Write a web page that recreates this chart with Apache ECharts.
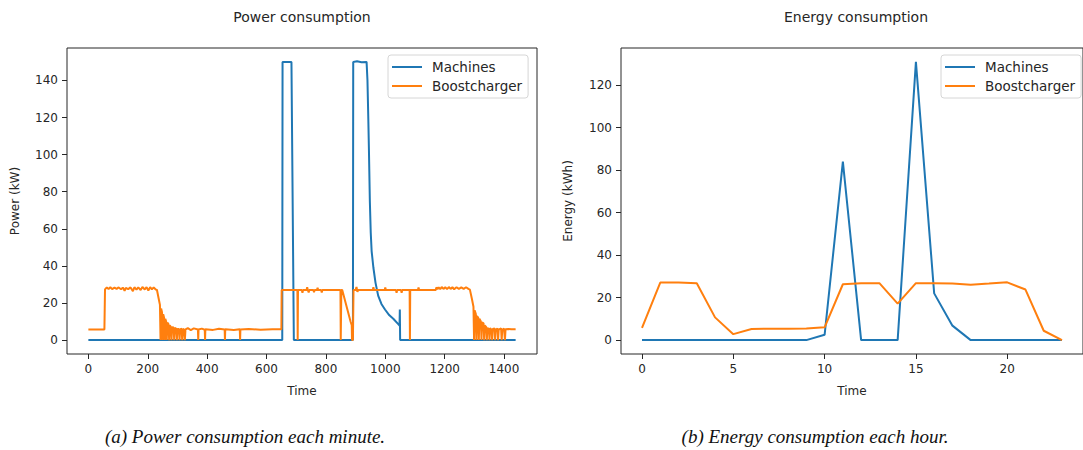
<!DOCTYPE html>
<html>
<head>
<meta charset="utf-8">
<script src="https://cdn.jsdelivr.net/npm/echarts@6/dist/echarts.min.js"></script>
<style>
  body { margin: 0; background: #fff; }
  #main { width: 1083px; height: 450px; }
</style>
</head>
<body>
<div id="main"></div>
<script>
// minute data, [minute, kW] at its breakpoints
var machinesPower = [
  [0, 0], [653, 0], [654, 150], [684, 150], [692, 0], [891, 0], [892, 150], [905, 150.3], [920, 149.8],
  [937, 150], [940, 140], [943, 118], [945, 102], [948, 75], [951, 58], [954, 48], [960, 39],
  [967, 31], [976, 24], [987, 19.5], [999, 16.5], [1013, 13.5], [1027, 11.5], [1046, 8.2],
  [1048, 7.8], [1049, 16.5], [1050, 0], [1439, 0]
];
var boostPower = [
  [0, 5.7], [54, 5.7], [56, 27.3], [62, 28.4], [68, 27.6], [74, 28.5], [80, 27.5], [88, 28.3],
  [95, 27.6], [102, 28.4], [110, 27.4], [116, 28.3], [122, 26.6], [126, 28.2], [134, 27.5],
  [142, 28.4], [150, 26.4], [155, 28.5], [162, 27.2], [168, 28.4], [176, 27.0], [182, 28.6],
  [190, 27.3], [196, 28.5], [202, 26.8], [208, 28.5], [214, 27.3], [220, 28.4], [226, 27.4],
  [231, 27.0], [236, 23], [241, 19], [243, 0], [245, 17], [248, 15], [250, 0], [252, 14],
  [255, 12], [257, 0], [259, 11.5], [262, 10], [264, 0], [266, 9.5], [270, 8.5], [272, 0],
  [274, 8], [278, 7], [280, 0], [282, 7], [287, 6.8], [289, 0], [291, 6.5], [296, 6.2],
  [298, 0], [300, 6], [305, 6], [307, 0], [309, 5.8], [314, 6.2], [316, 0], [318, 5.6],
  [322, 6], [325, 0], [327, 5.8], [335, 6.4], [345, 5.4], [355, 6.3], [369, 5.7], [370, 0],
  [371, 5.7], [382, 6.2], [392, 5.6], [393, 0], [394, 5.8], [420, 5.5], [440, 6.1], [459, 5.7],
  [460, 0], [461, 5.8], [490, 5.5], [510, 5.9], [511, 0], [512, 5.7], [540, 6.0], [580, 5.6],
  [620, 5.9], [650, 5.8], [651, 27], [704, 27], [705, 0], [706, 27], [719, 27], [721, 25.5],
  [723, 27], [735, 27], [737, 28.5], [739, 27], [742, 25.7], [744, 27], [758, 27], [760, 25.8],
  [762, 27], [770, 27], [772, 28.2], [774, 27], [784, 27], [786, 25.6], [788, 27], [849, 27],
  [850, 0], [852, 27], [855, 27], [883, 10], [887, 8], [888, 0], [891, 0], [893, 27], [900, 27],
  [903, 28.6], [906, 26], [909, 27], [958, 27], [960, 28.5], [962, 27], [998, 27], [1000, 28.4],
  [1002, 27], [1036, 27], [1038, 25.5], [1040, 27], [1053, 27], [1055, 25.5], [1057, 27],
  [1082, 27], [1083, 0], [1084, 27], [1110, 27], [1112, 28.4], [1114, 27], [1170, 27],
  [1172, 28.4], [1176, 27.5], [1180, 28.5], [1185, 27.4], [1190, 28.6], [1196, 27.6],
  [1202, 28.5], [1208, 27.5], [1214, 28.6], [1220, 27.6], [1226, 28.5], [1232, 27.4],
  [1240, 28.5], [1248, 27.6], [1256, 28.4], [1264, 27.6], [1272, 28.5], [1280, 27.6],
  [1285, 27.2], [1292, 22], [1297, 18], [1299, 0], [1301, 16], [1305, 14], [1307, 0], [1309, 13],
  [1313, 12], [1315, 0], [1317, 11.5], [1322, 10], [1324, 0], [1326, 9.5], [1331, 9], [1333, 0],
  [1335, 8], [1340, 7], [1342, 0], [1344, 6.5], [1349, 6], [1351, 0], [1353, 6.5], [1358, 5.5],
  [1360, 0], [1362, 6], [1368, 6.3], [1370, 0], [1372, 5.5], [1378, 6.3], [1380, 0], [1382, 5.6],
  [1390, 6.3], [1392, 0], [1394, 5.5], [1400, 6.2], [1403, 0], [1405, 5.8], [1415, 6.0],
  [1425, 5.8], [1439, 5.9]
];

// hourly energy (kWh)
var hours = [0, 1, 2, 3, 4, 5, 6, 7, 8, 9, 10, 11, 12, 13, 14, 15, 16, 17, 18, 19, 20, 21, 22, 23];
var machinesEnergy = [0, 0, 0, 0, 0, 0, 0, 0, 0, 0, 2.5, 84, 0, 0, 0, 131, 22, 6.8, 0, 0, 0, 0, 0, 0];
var boostEnergy = [5.7, 27.1, 27.1, 26.8, 10.7, 2.8, 5.2, 5.35, 5.35, 5.5, 6.0, 26.3, 26.8, 26.8,
  17.2, 26.8, 26.8, 26.6, 26.1, 26.6, 27.2, 23.8, 4.4, 0];

var minuteTicks = [0, 200, 400, 600, 800, 1000, 1200, 1400];
var powerTicks = [0, 20, 40, 60, 80, 100, 120, 140];
var hourTicks = [0, 5, 10, 15, 20];
var energyTicks = [0, 20, 40, 60, 80, 100, 120];

var font = 'DejaVu Sans';
var ink = '#262626';
var blue = '#1f77b4', orange = '#ff7f0e';

function pairs(xs, ys) {
  return xs.map(function (x, i) { return [x, ys[i]]; });
}
function plain(v) { return String(v); }

function axisOf(idx, min, max, ticks, name, gap, margin) {
  return {
    gridIndex: idx, type: 'value', min: min, max: max,
    splitLine: { show: false },
    axisLine: { show: false, onZero: false },
    axisTick: { show: true, customValues: ticks, length: 5, lineStyle: { color: ink } },
    axisLabel: { customValues: ticks, formatter: plain, color: ink, fontSize: 12, fontFamily: font, margin: margin },
    name: name, nameLocation: 'middle', nameGap: gap,
    nameTextStyle: { color: ink, fontSize: 12, fontFamily: font }
  };
}
function legendOf(left) {
  return {
    left: left, top: 55, orient: 'vertical',
    data: ['Machines', 'Boostcharger'],
    icon: 'rect', itemWidth: 30, itemHeight: 2, itemGap: 5,
    padding: [5, 6, 5, 4],
    backgroundColor: 'rgba(255,255,255,0.85)',
    borderColor: '#d6d6d6', borderWidth: 1, borderRadius: 3,
    textStyle: { color: ink, fontSize: 13.5, fontFamily: font, padding: [0, 0, 0, 5] }
  };
}
function lineOf(name, data, idx, color) {
  return {
    name: name, type: 'line', data: data, xAxisIndex: idx, yAxisIndex: idx,
    showSymbol: false, symbol: 'none', color: color,
    lineStyle: { width: 2, color: color }
  };
}
function label(x, y, text, font2, fill) {
  return {
    type: 'text', x: x, y: y,
    style: { text: text, align: 'center', verticalAlign: 'middle', textAlign: 'center', textVerticalAlign: 'middle', font: font2, fill: fill }
  };
}

var myChart = echarts.init(document.getElementById('main'), null, { renderer: 'svg' });
var option = {
  animation: false,
  backgroundColor: '#fff',
  grid: [
    { left: 67, top: 48, width: 470, height: 306, show: true, borderColor: ink, borderWidth: 1 },
    { left: 621, top: 48, width: 470, height: 306, show: true, borderColor: ink, borderWidth: 1 }
  ],
  xAxis: [
    axisOf(0, -72, 1511, minuteTicks, 'Time', 31, 9),
    axisOf(1, -1.15, 24.15, hourTicks, 'Time', 31, 9)
  ],
  yAxis: [
    axisOf(0, -7.5, 157.5, powerTicks, 'Power (kW)', 46, 9),
    axisOf(1, -6.55, 137.55, energyTicks, 'Energy (kWh)', 47, 9)
  ],
  legend: [legendOf(388), legendOf(941)],
  series: [
    lineOf('Machines', machinesPower, 0, blue),
    lineOf('Boostcharger', boostPower, 0, orange),
    lineOf('Machines', pairs(hours, machinesEnergy), 1, blue),
    lineOf('Boostcharger', pairs(hours, boostEnergy), 1, orange)
  ],
  graphic: [
    label(302, 17, 'Power consumption', '14px "DejaVu Sans"', ink),
    label(856, 17, 'Energy consumption', '14px "DejaVu Sans"', ink),
    label(245, 436, '(a) Power consumption each minute.', 'italic 19px "Liberation Serif"', '#111'),
    label(815, 436, '(b) Energy consumption each hour.', 'italic 19px "Liberation Serif"', '#111')
  ]
};
myChart.setOption(option);
</script>
</body>
</html>
